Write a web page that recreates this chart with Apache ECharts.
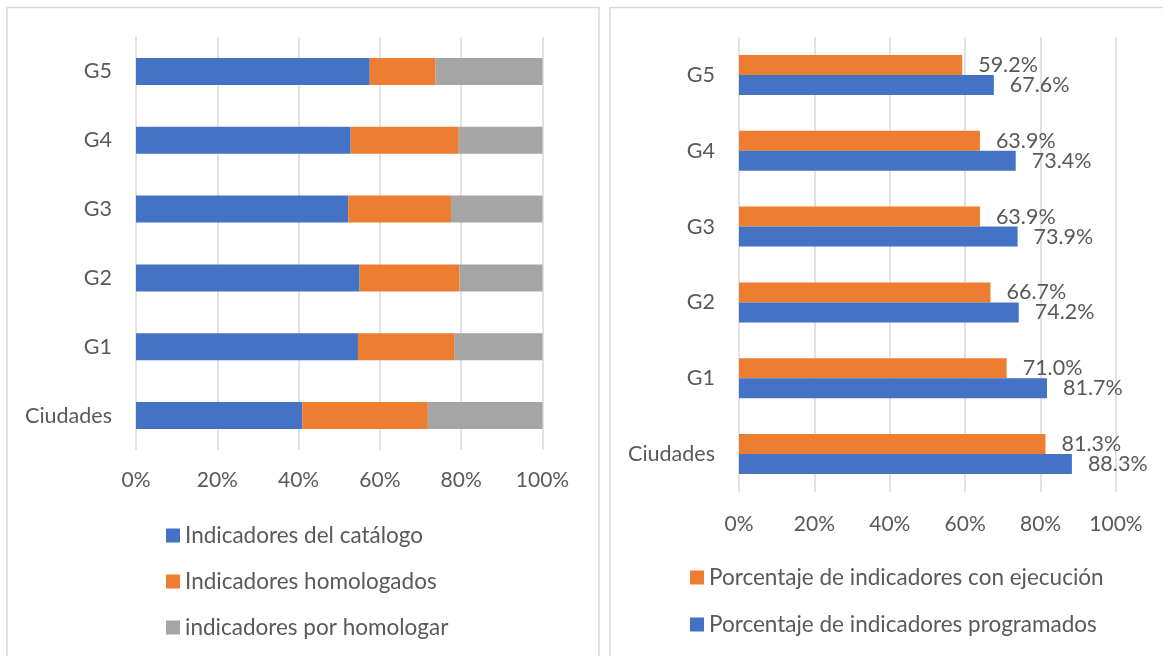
<!DOCTYPE html>
<html>
<head>
<meta charset="utf-8">
<script src="https://cdn.jsdelivr.net/npm/echarts@6/dist/echarts.min.js"></script>
<style>
  html, body { margin: 0; padding: 0; background: #fff; }
  #main { width: 1163px; height: 656px; }
</style>
</head>
<body>
<div id="main"></div>
<script>
// categorias (de abajo hacia arriba)
var categories = ["Ciudades", "G1", "G2", "G3", "G4", "G5"];
var xTicks = ["0%", "20%", "40%", "60%", "80%", "100%"];

// grafico izquierdo: composicion (%)
var catalogo = [40.9, 54.6, 55.0, 52.2, 52.8, 57.5];
var homologados = [30.9, 23.8, 24.6, 25.3, 26.6, 16.2];
var porHomologar = [28.2, 21.6, 20.4, 22.5, 20.6, 26.3];

// grafico derecho: porcentajes
var conEjecucion = [81.3, 71.0, 66.7, 63.9, 63.9, 59.2];
var programados = [88.3, 81.7, 74.2, 73.9, 73.4, 67.6];

var textColor = "#595959";
var gridColor = "#d9d9d9";
var fontFamily = "Lato";

var chart = echarts.init(document.getElementById("main"));

function xAxisFor(gridIndex, margin) {
  return {
    gridIndex: gridIndex,
    type: "value",
    min: 0,
    max: 100,
    interval: 20,
    axisLine: { show: false },
    axisTick: { show: false },
    splitLine: { lineStyle: { color: gridColor, width: 1.5 } },
    axisLabel: {
      color: textColor,
      fontFamily: fontFamily,
      fontSize: 21,
      margin: margin,
      formatter: function (v) { return xTicks[v / 20]; },
    },
  };
}

function yAxisFor(gridIndex) {
  return {
    gridIndex: gridIndex,
    type: "category",
    data: categories,
    axisLine: { show: false },
    axisTick: { show: false },
    axisLabel: { color: textColor, fontFamily: fontFamily, fontSize: 21.5, margin: 24 },
  };
}

var valueLabel = {
  show: true,
  position: "right",
  distance: 16,
  color: textColor,
  fontFamily: fontFamily,
  fontSize: 21.5,
  formatter: function (p) { return p.value.toFixed(1) + "%"; },
};

chart.setOption({
  animation: false,
  graphic: [
    {
      type: "rect",
      shape: { x: 7, y: 7.5, width: 592, height: 700 },
      style: { fill: "none", stroke: gridColor, lineWidth: 1.5 },
    },
    {
      type: "rect",
      shape: { x: 610, y: 7.5, width: 600, height: 700 },
      style: { fill: "none", stroke: gridColor, lineWidth: 1.5 },
    },
  ],
  grid: [
    { left: 136, top: 37, width: 406.5, height: 413 },
    { left: 739, top: 37, width: 377, height: 455 },
  ],
  xAxis: [xAxisFor(0, 20), xAxisFor(1, 22)],
  yAxis: [yAxisFor(0), yAxisFor(1)],
  legend: [
    {
      orient: "vertical",
      left: 166,
      top: 524,
      padding: 0,
      itemWidth: 14,
      itemHeight: 14,
      itemGap: 23,
      icon: "rect",
      textStyle: { color: textColor, fontFamily: fontFamily, fontSize: 22.5, lineHeight: 22 },
      data: ["Indicadores del catálogo", "Indicadores homologados", "indicadores por homologar"],
    },
    {
      orient: "vertical",
      left: 690,
      top: 566,
      padding: 0,
      itemWidth: 14,
      itemHeight: 14,
      itemGap: 24,
      icon: "rect",
      textStyle: { color: textColor, fontFamily: fontFamily, fontSize: 22.5, lineHeight: 22 },
      data: ["Porcentaje de indicadores con ejecución", "Porcentaje de indicadores programados"],
    },
  ],
  series: [
    {
      name: "Indicadores del catálogo",
      type: "bar",
      stack: "total",
      xAxisIndex: 0,
      yAxisIndex: 0,
      barWidth: 27,
      itemStyle: { color: "#4472C4" },
      data: catalogo,
    },
    {
      name: "Indicadores homologados",
      type: "bar",
      stack: "total",
      xAxisIndex: 0,
      yAxisIndex: 0,
      barWidth: 27,
      itemStyle: { color: "#ED7D31" },
      data: homologados,
    },
    {
      name: "indicadores por homologar",
      type: "bar",
      stack: "total",
      xAxisIndex: 0,
      yAxisIndex: 0,
      barWidth: 27,
      itemStyle: { color: "#A5A5A5" },
      data: porHomologar,
    },
    {
      name: "Porcentaje de indicadores con ejecución",
      type: "bar",
      xAxisIndex: 1,
      yAxisIndex: 1,
      barWidth: 20,
      barGap: "0%",
      itemStyle: { color: "#ED7D31" },
      label: valueLabel,
      data: conEjecucion,
    },
    {
      name: "Porcentaje de indicadores programados",
      type: "bar",
      xAxisIndex: 1,
      yAxisIndex: 1,
      barWidth: 20,
      barGap: "0%",
      itemStyle: { color: "#4472C4" },
      label: valueLabel,
      data: programados,
    },
  ],
});
</script>
</body>
</html>
